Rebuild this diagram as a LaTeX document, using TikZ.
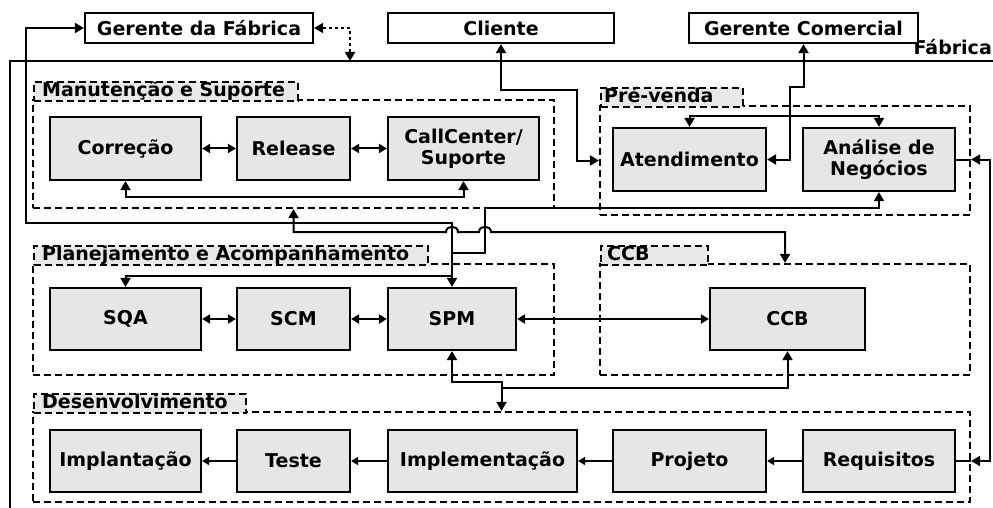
\documentclass[tikz,border=0pt]{standalone}
\usepackage{fontspec}
\setmainfont{DejaVu Sans}
\usetikzlibrary{arrows.meta,calc}
\definecolor{boxgray}{RGB}{230,230,230}
\definecolor{tabgray}{RGB}{232,232,232}
\newcommand\lblfont{\fontsize{19}{21}\selectfont\bfseries}
\begin{document}
\begin{tikzpicture}[x=1pt,y=-1pt,
  box/.style={draw=black, line width=2.2pt, fill=boxgray, font=\lblfont, align=center, inner sep=0pt},
  topbox/.style={draw=black, line width=2.2pt, fill=white, font=\lblfont, inner sep=0pt},
  grp/.style={draw=black, line width=2.2pt, dash pattern=on 7pt off 4pt, inner sep=0pt},
  tabbox/.style={grp, fill=tabgray, anchor=north west, minimum height=19pt},
  tabtxt/.style={font=\lblfont, anchor=west, inner xsep=9pt, inner ysep=0pt, text height=14pt, text depth=4pt},
  conn/.style={line width=2pt},
  bi/.style={conn, {Triangle[length=9pt,width=10pt]}-{Triangle[length=9pt,width=10pt]}},
  fwd/.style={conn, -{Triangle[length=9pt,width=10pt]}},
  bwd/.style={conn, {Triangle[length=9pt,width=10pt]}-},
  bis/.style={conn, {Triangle[length=8pt,width=9pt]}-{Triangle[length=8pt,width=9pt]}},
  fws/.style={conn, -{Triangle[length=7pt,width=8pt]}}
]
\useasboundingbox (0,0) rectangle (993,508);

% frame "Fabrica"
\coordinate (fBL) at (10,508);
\coordinate (fTL) at (10,61);
\coordinate (fTR) at (993,61);
\draw[conn] (fBL) -- (fTL) -- (fTR);
\node[font=\lblfont, anchor=base east, inner sep=0pt] (fab) at (992,55) {Fábrica};

% groups
\node[grp, minimum width=521pt, minimum height=108pt] (gman) at (293.5,154) {};
\node[grp, minimum width=370pt, minimum height=109pt] (gpv) at (785,160.5) {};
\node[grp, minimum width=521pt, minimum height=111pt] (gplan) at (293.5,319.5) {};
\node[grp, minimum width=370pt, minimum height=111pt] (gccb) at (785,319.5) {};
\node[grp, minimum width=937pt, minimum height=90pt] (gdev) at (501.5,457) {};

% tabs
\node[tabbox, minimum width=264pt] (tman) at (33,81) {};
\node[tabtxt] at (tman.west) {Manutenção e Suporte};
\node[tabbox, minimum width=142pt] (tpv) at (600,87) {};
\node[tabtxt, inner xsep=4pt] at (tpv.west) {Pré-venda};
\node[tabbox, minimum width=394pt] (tplan) at (33,245) {};
\node[tabtxt] at (tplan.west) {Planejamento e Acompanhamento};
\node[tabbox, minimum width=107pt] (tccb) at (600,245) {};
\node[tabtxt, inner xsep=7pt] at (tccb.west) {CCB};
\node[tabbox, minimum width=212pt] (tdev) at (33,393) {};
\node[tabtxt] at (tdev.west) {Desenvolvimento};

% top boxes
\node[topbox, minimum width=228pt, minimum height=30pt] (gf) at (199,28) {Gerente da Fábrica};
\node[topbox, minimum width=226pt, minimum height=30pt] (cli) at (501,28) {Cliente};
\node[topbox, minimum width=229pt, minimum height=30pt] (gc) at (803.5,28) {Gerente Comercial};

% row 1
\node[box, minimum width=151pt, minimum height=63pt] (corr) at (125.5,148.5) {Correção};
\node[box, minimum width=113pt, minimum height=63pt] (rel) at (293.5,148.5) {Release};
\node[box, minimum width=151pt, minimum height=63pt] (call) at (463.5,148.5) {CallCenter/\\Suporte};
\node[box, minimum width=153pt, minimum height=63pt] (aten) at (689.5,159.5) {Atendimento};
\node[box, minimum width=152pt, minimum height=63pt] (anal) at (879,159.5) {Análise de\\Negócios};

% row 2
\node[box, minimum width=151pt, minimum height=62pt] (sqa) at (125.5,319) {SQA};
\node[box, minimum width=113pt, minimum height=62pt] (scm) at (293.5,319) {SCM};
\node[box, minimum width=128pt, minimum height=62pt] (spm) at (452,319) {SPM};
\node[box, minimum width=155pt, minimum height=62pt] (ccb) at (787.5,319) {CCB};

% row 3
\node[box, minimum width=151pt, minimum height=62pt] (impl) at (125.5,461) {Implantação};
\node[box, minimum width=113pt, minimum height=62pt] (teste) at (293.5,461) {Teste};
\node[box, minimum width=189pt, minimum height=62pt] (implem) at (482.5,461) {Implementação};
\node[box, minimum width=153pt, minimum height=62pt] (proj) at (689.5,461) {Projeto};
\node[box, minimum width=152pt, minimum height=62pt] (req) at (879,461) {Requisitos};

% row connectors
\draw[bis] (corr.east) -- (rel.west);
\draw[bis] (rel.east) -- (call.west);
\draw[bis] (sqa.east) -- (scm.west);
\draw[bis] (scm.east) -- (spm.west);
\draw[bis] (spm.east) -- (ccb.west);
\draw[fws] (teste.west) -- (impl.east);
\draw[fws] (implem.west) -- (teste.east);
\draw[fws] (proj.west) -- (implem.east);
\draw[fws] (req.west) -- (proj.east);

% Correcao - CallCenter
\draw[bi] (corr.south) -- ++(0,16) -| (call.south);
% Atendimento - Analise
\draw[bi] (aten.north) -- ++(0,-11) -| (anal.north);
% SQA - SPM
\coordinate (jspm) at ($(spm.north)+(0,-11)$);
\draw[bi] (sqa.north) |- (jspm) -- (spm.north);
% Gerente da Fabrica - SPM
\draw[fwd] (jspm) |- (26,223) |- (gf.west);
% Analise - SPM
\draw[bwd] (anal.south) |- (485,208) -- (485,253) -- (jspm |- 0,253);
% Manutencao - CCB group
\draw[bi] (gman.south) |- (446,232) .. controls (446,225) and (458,225) .. (458,232)
  -- (479,232) .. controls (479,225) and (491,225) .. (491,232) -| (gccb.north);
% Cliente - Pre-venda
\draw[bi] (cli.south) |- (577,90) |- (gpv.west);
% Gerente Comercial - Atendimento
\draw[bi] (gc.south) |- (790,87) |- (aten.east);
% Gerente da Fabrica - Fabrica (dashed)
\coordinate (fabtop) at (350,61);
\draw[bi, dash pattern=on 3pt off 3pt] (gf.east) -| (fabtop);
% Analise - Requisitos
\coordinate (pvE) at (gpv.east |- anal.east);
\coordinate (dvE) at (gdev.east |- req.east);
\draw[conn] (anal.east) -- (pvE);
\draw[bi] (pvE) -- (990,159.5) -- (990,461) -- (dvE);
\draw[conn] (dvE) -- (req.east);
% SPM / CCB - Desenvolvimento
\draw[bi] (spm.south) |- (501.5,382) -- (gdev.north);
\draw[bwd] (ccb.south) |- (501.5,388);
\end{tikzpicture}
\end{document}
